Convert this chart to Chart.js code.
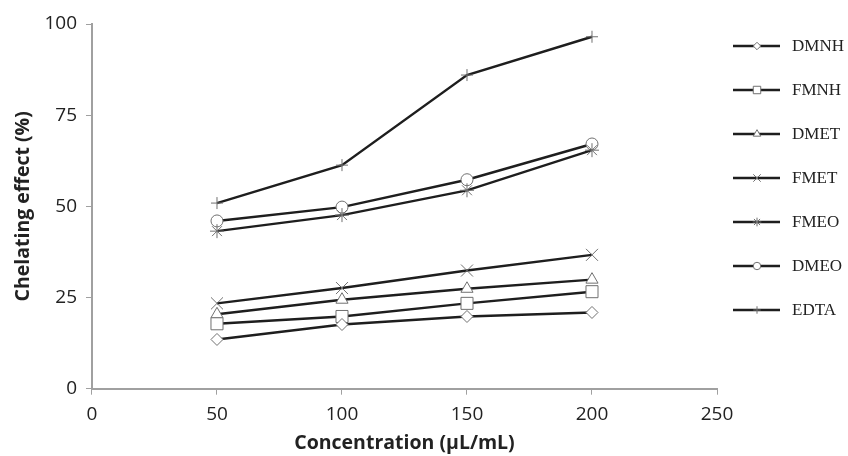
<!DOCTYPE html>
<html>
<head>
<meta charset="utf-8">
<script src="https://cdn.jsdelivr.net/npm/chart.js@4"></script>
<style>
  html, body { margin: 0; padding: 0; background: #fff; }
  #wrap { width: 848px; height: 456px; }
</style>
</head>
<body>
<div id="wrap"><canvas id="myChart"></canvas></div>
<script>
const concentrations = [50, 100, 150, 200];
const seriesNames = ["DMNH", "FMNH", "DMET", "FMET", "FMEO", "DMEO", "EDTA"];
const dmnh = [13.5, 17.6, 19.8, 20.9];
const fmnh = [17.8, 19.8, 23.4, 26.6];
const dmet = [20.4, 24.4, 27.4, 29.9];
const fmet = [23.4, 27.6, 32.4, 36.7];
const fmeo = [43.2, 47.6, 54.4, 65.4];
const dmeo = [46.0, 49.8, 57.3, 67.1];
const edta = [50.9, 61.3, 86.0, 96.5];
const seriesValues = [dmnh, fmnh, dmet, fmet, fmeo, dmeo, edta];
const xTicks = [0, 50, 100, 150, 200, 250];
const yTicks = [0, 25, 50, 75, 100];

// marker shapes and sizes (sizes chosen so every shape looks ~12px wide)
const markers = ["rectRot", "rect", "triangle", "crossRot", "star", "circle", "cross"];
const markerRadius = [6, 8.5, 7, 8.5, 7, 6, 6];

const lineColor = "#1e1e1e";
const markerColor = "#707070";
const axisColor = "#a0a0a0";
const textColor = "#222";

const datasets = seriesNames.map((name, i) => ({
    label: name,
    data: concentrations.map((c, j) => ({ x: c, y: seriesValues[i][j] })),
    borderColor: lineColor,
    borderWidth: 2.4,
    pointStyle: markers[i],
    pointRadius: markerRadius[i],
    pointBorderWidth: 1,
    pointBorderColor: markerColor,
    pointBackgroundColor: "#fff",
    tension: 0,
}));

// legend drawn by hand: line with marker in the middle, serif label
const sideLegend = {
    id: "sideLegend",
    afterDraw(chart) {
        const ctx = chart.ctx;
        const area = chart.chartArea;
        const x0 = area.right + 16;
        ctx.save();
        seriesNames.forEach((name, i) => {
            const y = area.top + 22 + i * 44;
            ctx.strokeStyle = lineColor;
            ctx.lineWidth = 2.4;
            ctx.beginPath();
            ctx.moveTo(x0, y);
            ctx.lineTo(x0 + 47, y);
            ctx.stroke();
            ctx.fillStyle = "#fff";
            ctx.strokeStyle = markerColor;
            ctx.lineWidth = 1;
            Chart.helpers.drawPoint(ctx, { pointStyle: markers[i], radius: markerRadius[i] * 0.62, borderWidth: 1 }, x0 + 24, y);
            ctx.fillStyle = textColor;
            ctx.font = "17px 'Liberation Serif'";
            ctx.textBaseline = "middle";
            ctx.textAlign = "left";
            ctx.fillText(name, x0 + 59, y + 1);
        });
        ctx.restore();
    },
};

const config = {
    type: "line",
    data: { datasets: datasets },
    options: {
        responsive: true,
        maintainAspectRatio: false,
        animation: false,
        layout: {
            padding: { top: 24, right: 131, bottom: 3, left: 12 },
        },
        scales: {
            x: {
                type: "linear",
                min: 0,
                max: 250,
                afterBuildTicks: (scale) => { scale.ticks = xTicks.map((v) => ({ value: v })); },
                border: { display: true, color: axisColor, width: 2 },
                grid: { display: true, drawOnChartArea: false, drawTicks: true, tickLength: 6, color: axisColor, lineWidth: 1 },
                ticks: {
                    color: textColor,
                    padding: 8,
                    font: { family: "Open Sans", size: 19 },
                },
                title: {
                    display: true,
                    text: "Concentration (μL/mL)",
                    color: textColor,
                    padding: { top: 0, bottom: 0 },
                    font: { family: "Open Sans", size: 19.5, weight: "bold", lineHeight: 1 },
                },
            },
            y: {
                min: 0,
                max: 100,
                afterBuildTicks: (scale) => { scale.ticks = yTicks.map((v) => ({ value: v })); },
                border: { display: true, color: axisColor, width: 2 },
                grid: { display: true, drawOnChartArea: false, drawTicks: true, tickLength: 6, color: axisColor, lineWidth: 1 },
                ticks: {
                    color: textColor,
                    padding: 9,
                    font: { family: "Open Sans", size: 19 },
                },
                title: {
                    display: true,
                    text: "Chelating effect (%)",
                    color: textColor,
                    padding: { top: 0, bottom: 0 },
                    font: { family: "Open Sans", size: 19.5, weight: "bold" },
                },
            },
        },
        plugins: {
            legend: { display: false },
            tooltip: { enabled: false },
        },
    },
    plugins: [sideLegend],
};

const myChart = new Chart(document.getElementById("myChart").getContext("2d"), config);
</script>
</body>
</html>
